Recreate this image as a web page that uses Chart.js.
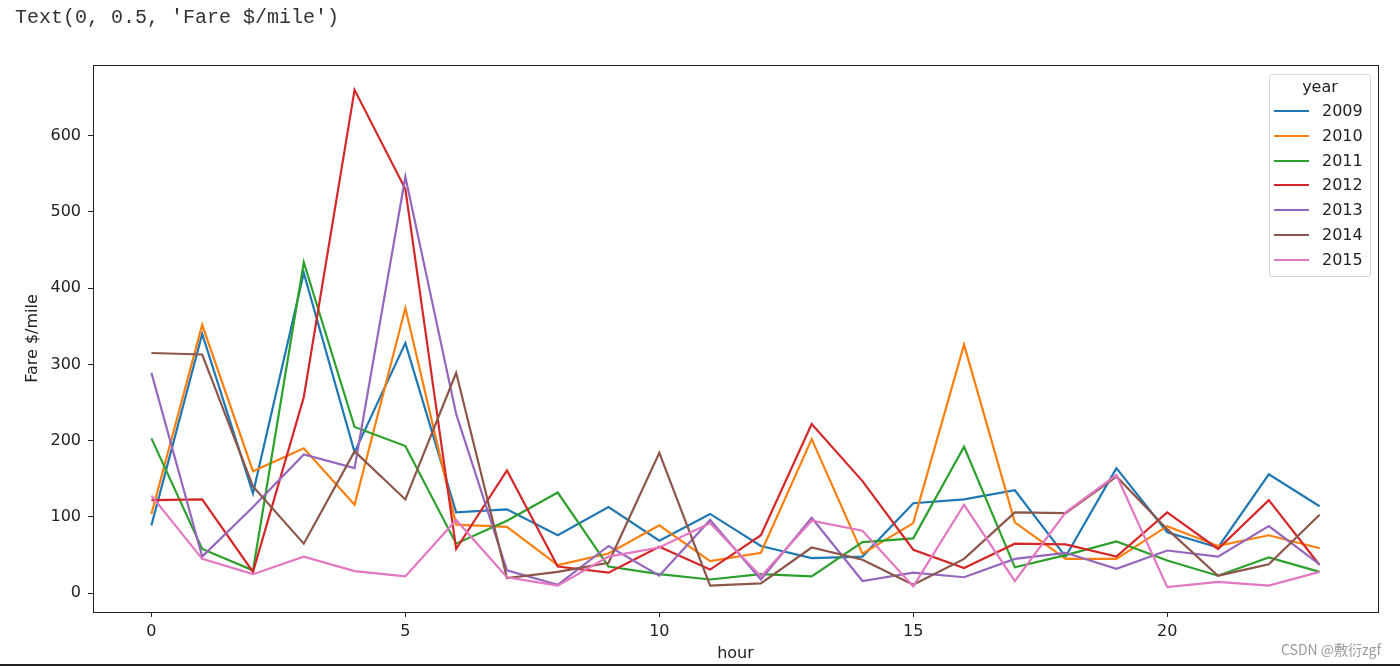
<!DOCTYPE html>
<html>
<head>
<meta charset="utf-8">
<script src="https://cdn.jsdelivr.net/npm/chart.js@4/dist/chart.umd.min.js"></script>
<style>
    html, body { margin: 0; padding: 0; background: #fff; }
    #wrap { position: relative; width: 1400px; height: 666px; overflow: hidden; }
    #chart { position: absolute; left: 0; top: 0; }
    #caption { position: absolute; left: 15px; top: 6px; font: 20px 'Liberation Mono', monospace; color: #333; white-space: pre; }
    #legend { position: absolute; left: 1269px; top: 74px; width: 100px; height: 201px; border: 1px solid #d6d6d6; border-radius: 3px; background: rgba(255,255,255,0.8); font: 16px 'DejaVu Sans', sans-serif; color: #222; }
    #legend .ttl { position: absolute; left: 0; width: 100%; top: 2px; height: 20px; line-height: 20px; text-align: center; }
    #legend .row { position: absolute; left: 0; width: 100%; height: 20px; }
    #legend .ln { position: absolute; left: 4px; top: 9px; width: 35px; height: 2px; }
    #legend .lbl { position: absolute; left: 52px; top: 0; line-height: 20px; }
    #mark { position: absolute; left: 1281px; top: 639px; font: 14px 'Noto Sans CJK SC', 'DejaVu Sans', sans-serif; color: #9a9a9a; }
    #rule { position: absolute; left: 0; top: 664px; width: 1400px; height: 2px; background: #222; }
</style>
</head>
<body>
<div id="wrap">
    <canvas id="chart" width="1400" height="666"></canvas>
    <div id="caption">Text(0, 0.5, 'Fare $/mile')</div>
    <div id="legend"><div class="ttl">year</div></div>
    <div id="mark">CSDN @敷衍zgf</div>
    <div id="rule"></div>
</div>
<script>
const hours = [0, 1, 2, 3, 4, 5, 6, 7, 8, 9, 10, 11, 12, 13, 14, 15, 16, 17, 18, 19, 20, 21, 22, 23];
const years = ['2009', '2010', '2011', '2012', '2013', '2014', '2015'];
const colors = ['#1f77b4', '#ff7f0e', '#2ca02c', '#d62728', '#9467bd', '#8c564b', '#e377c2'];

const fare2009 = [89, 340, 131, 420, 185, 328, 106, 110, 76, 113, 69, 104, 62, 46, 48, 118, 123, 135, 48, 164, 80, 60, 156, 114];
const fare2010 = [104, 352, 160, 190, 116, 374, 90, 87, 37, 52, 89, 42, 53, 202, 52, 92, 326, 93, 45, 45, 88, 62, 76, 59];
const fare2011 = [203, 58, 30, 434, 218, 193, 65, 95, 132, 35, 25, 18, 25, 22, 67, 72, 192, 34, 50, 68, 43, 23, 47, 28];
const fare2012 = [122, 123, 28, 257, 660, 530, 58, 161, 35, 27, 61, 31, 76, 222, 147, 57, 33, 65, 64, 48, 106, 58, 122, 37];
const fare2013 = [289, 48, 113, 182, 164, 546, 235, 30, 11, 62, 23, 96, 18, 99, 16, 27, 21, 45, 53, 32, 56, 48, 88, 38];
const fare2014 = [315, 313, 140, 65, 186, 123, 289, 20, 28, 40, 184, 10, 13, 60, 44, 11, 45, 106, 105, 153, 84, 23, 38, 103];
const fare2015 = [128, 45, 25, 48, 29, 22, 96, 21, 10, 48, 60, 92, 22, 95, 82, 9, 116, 16, 106, 155, 8, 15, 10, 28];

const series = [fare2009, fare2010, fare2011, fare2012, fare2013, fare2014, fare2015];
const xTicks = [0, 5, 10, 15, 20];
const yTicks = [0, 100, 200, 300, 400, 500, 600];

const tickFont = { family: 'DejaVu Sans', size: 16 };

// matplotlib style frame round the plot area
const frame = {
    id: 'frame',
    afterDraw(chart) {
        const { ctx, chartArea: a } = chart;
        ctx.save();
        ctx.strokeStyle = '#222';
        ctx.lineWidth = 1;
        ctx.strokeRect(Math.round(a.left) + 0.5, Math.round(a.top) + 0.5, Math.round(a.right - a.left), Math.round(a.bottom - a.top));
        ctx.restore();
    }
};

const datasets = years.map((y, i) => ({
    label: y,
    data: hours.map((h, j) => ({ x: h, y: series[i][j] })),
    borderColor: colors[i],
    backgroundColor: colors[i],
    borderWidth: 2.2,
    pointRadius: 0,
    tension: 0,
    order: years.length - i
}));

new Chart(document.getElementById('chart'), {
    type: 'line',
    data: { datasets },
    plugins: [frame],
    options: {
        responsive: false,
        animation: false,
        layout: { padding: { left: 0, top: 65, right: 22, bottom: 0 } },
        plugins: { legend: { display: false }, tooltip: { enabled: false } },
        scales: {
            x: {
                type: 'linear',
                min: -1.15,
                max: 24.15,
                afterBuildTicks: s => { s.ticks = xTicks.map(v => ({ value: v })); },
                afterFit: s => { s.height = 54; },
                grid: { drawOnChartArea: false, drawTicks: true, tickLength: 5, tickColor: '#222' },
                border: { display: false },
                ticks: { font: tickFont, color: '#222', padding: 5, maxRotation: 0 },
                title: { display: true, text: 'hour', font: tickFont, color: '#222', padding: { top: 0, bottom: 3 } }
            },
            y: {
                min: -24.6,
                max: 692.6,
                afterBuildTicks: s => { s.ticks = yTicks.map(v => ({ value: v })); },
                afterFit: s => { s.width = 93; },
                grid: { drawOnChartArea: false, drawTicks: true, tickLength: 5, tickColor: '#222' },
                border: { display: false },
                ticks: { font: tickFont, color: '#222', padding: 7 },
                title: { display: true, text: 'Fare $/mile', font: tickFont, color: '#222', padding: { top: 23, bottom: 0 } }
            }
        }
    }
});

const legend = document.getElementById('legend');
years.forEach((y, i) => {
    const row = document.createElement('div');
    row.className = 'row';
    row.style.top = (26 + i * 24.8) + 'px';
    row.innerHTML = `<div class="ln" style="background:${colors[i]}"></div><div class="lbl">${y}</div>`;
    legend.appendChild(row);
});
</script>
</body>
</html>
